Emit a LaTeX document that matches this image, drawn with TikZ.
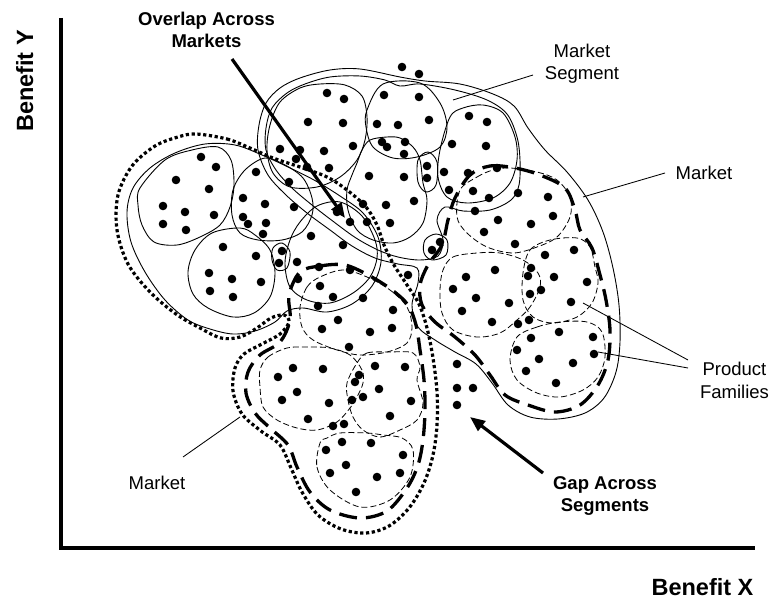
\documentclass[tikz,border=0pt]{standalone}
\usepackage{fontspec}
\setmainfont{Liberation Sans}
\usetikzlibrary{arrows.meta}
\begin{document}
\begin{tikzpicture}[x=1pt,y=-1pt,
  solidline/.style={line width=0.9pt},
  famdash/.style={line width=0.8pt, dash pattern=on 6pt off 3pt},
  segdash/.style={line width=3.3pt, dash pattern=on 18pt off 9pt},
  mktdot/.style={line width=3.2pt, dash pattern=on 3.2pt off 2.6pt},
  lab/.style={font=\fontsize{18.5}{22}\selectfont, anchor=base, inner sep=0pt},
  blab/.style={font=\fontsize{18.5}{22}\selectfont\bfseries, anchor=base, inner sep=0pt},
  axlab/.style={font=\fontsize{23.5}{28}\selectfont\bfseries, anchor=base, inner sep=0pt},
  bigarrow/.style={line width=3.2pt, -{Triangle[length=15pt,width=12pt]}},
  leader/.style={line width=0.85pt},
  sm/.style={smooth cycle, tension=0.55}
]
\fill[white] (0,0) rectangle (769,599);
\useasboundingbox (0,0) rectangle (769,599);

% ---------- Market A (dotted) ----------
\draw[mktdot] plot[sm] coordinates {(196,134) (227,139) (250,148) (273,158) (300,167) (327,177) (347,190) (366,207) (377,225) (384,245) (394,265) (407,285) (419,304) (427,328) (433,358) (437,392) (437,425) (433,455) (424,483) (409,508) (389,526) (366,533) (341,529) (318,515) (302,492) (291,468) (280,445) (261,431) (242,414) (233,391) (235,368) (244,354) (262,344) (280,334) (289,322) (284,315) (271,318) (257,328) (240,337) (221,338) (200,328) (176,314) (150,292) (128,264) (117,230) (118,195) (132,166) (155,146) (178,137)};

% ---------- Market B (solid) ----------
\draw[solidline] plot[sm] coordinates {(258,150) (259,125) (266,103) (280,88) (300,78) (330,70) (360,69) (400,77) (425,81) (460,84) (493,94) (514,106) (528,128) (545,150) (567,172) (588,200) (603,232) (613,268) (619,305) (620,342) (616,372) (604,398) (585,413) (558,419) (530,417) (508,405) (492,383) (476,364) (455,352) (435,340) (418,327) (412,305) (418,283) (417,268) (398,264) (375,258) (352,246) (330,230) (307,213) (286,195) (268,175)};

% ---------- Top segment (solid) ----------
\draw[solidline] plot[sm] coordinates {(266,150) (266,128) (272,108) (287,93) (305,84) (330,77) (360,76) (385,80) (400,86) (420,84) (455,90) (487,100) (507,114) (517,137) (520,160) (519,185) (511,200) (490,210) (463,211) (445,207) (437,220) (443,240) (438,256) (420,260) (398,257) (378,250) (356,238) (334,222) (312,205) (292,188) (276,170)};

% ---------- Left segment (solid) ----------
\draw[solidline] plot[sm] coordinates {(127,212) (133,188) (150,168) (175,153) (205,144) (235,145) (262,155) (288,167) (314,180) (340,196) (363,213) (378,237) (381,262) (372,286) (352,304) (327,312) (303,308) (287,311) (275,322) (255,331) (233,334) (210,329) (188,320) (165,300) (145,272) (131,242)};

% ---------- Solid families ----------
\draw[solidline] plot[sm] coordinates {(270,125) (280,102) (300,88) (320,84) (345,85) (362,96) (367,117) (365,140) (357,160) (340,177) (317,187) (290,187) (273,173) (267,150)};
\draw[solidline] plot[sm] coordinates {(367,110) (383,84) (420,83) (440,103) (447,127) (440,147) (417,157) (393,158) (373,147) (366,127)};
\draw[solidline] plot[sm] coordinates {(450,117) (463,108) (483,105) (503,113) (515,137) (517,160) (510,183) (493,198) (467,203) (447,197) (438,177) (440,150)};
\draw[solidline] plot[sm] coordinates {(370,140) (387,137) (400,138) (413,147) (420,160) (423,183) (427,200) (423,223) (410,237) (393,243) (373,240) (357,230) (348,210) (347,190) (352,175) (357,163) (362,150)};
\draw[solidline] plot[sm] coordinates {(140,188) (165,160) (192,150) (218,147) (231,160) (234,185) (230,207) (220,225) (200,237) (177,245) (154,242) (142,225) (138,205)};
\draw[solidline] plot[sm] coordinates {(212,233) (195,250) (188,272) (193,294) (208,308) (233,317) (254,313) (270,297) (275,273) (270,250) (255,235) (240,228)};
\draw[solidline] plot[sm] coordinates {(245,170) (265,158) (285,165) (303,178) (312,198) (312,215) (302,232) (282,240) (258,240) (240,233) (232,215) (233,190)};
\draw[solidline] plot[sm] coordinates {(300,222) (317,206) (340,202) (362,216) (375,240) (377,258) (370,277) (353,293) (330,303) (307,300) (290,287) (285,263) (290,240)};
\draw[solidline] plot[sm] coordinates {(418,160) (428,152) (437,162) (436,185) (426,192) (418,182)};
\draw[solidline] plot[sm] coordinates {(425,240) (436,234) (447,240) (446,255) (432,260) (424,253)};
\draw[solidline] plot[sm] coordinates {(273,248) (282,243) (290,252) (287,268) (277,270) (272,260)};

% ---------- Right dashed segment ----------
\draw[segdash] plot[sm] coordinates {(470,175) (490,166) (515,168) (540,175) (565,188) (575,210) (580,230) (592,248) (600,275) (606,300) (610,330) (608,360) (598,385) (580,405) (555,412) (528,405) (505,395) (490,375) (475,355) (455,337) (435,322) (422,305) (420,285) (428,265) (442,245) (448,220) (455,198)};
% ---------- Lower dashed segment ----------
\draw[segdash] plot[sm] coordinates {(300,272) (320,266) (345,265) (370,276) (392,290) (408,305) (416,325) (420,350) (424,380) (425,410) (423,440) (418,465) (407,488) (387,511) (360,518) (330,510) (310,492) (297,467) (288,445) (270,428) (255,413) (246,393) (248,372) (260,355) (280,342) (290,320) (289,295)};

% ---------- Dashed families ----------
\draw[famdash] plot[sm] coordinates {(460,190) (477,177) (493,170) (510,168) (537,172) (557,180) (570,197) (570,217) (557,237) (537,247) (513,253) (487,247) (467,233) (457,217)};
\draw[famdash] plot[sm] coordinates {(443,270) (453,257) (477,253) (500,253) (523,260) (538,273) (540,287) (530,307) (517,320) (500,333) (477,337) (453,330) (442,313) (440,290)};
\draw[famdash] plot[sm] coordinates {(523,273) (530,250) (550,240) (577,238) (590,247) (595,267) (598,283) (592,303) (577,317) (553,323) (533,317) (523,300)};
\draw[famdash] plot[sm] coordinates {(517,337) (537,327) (560,322) (587,322) (602,332) (605,357) (598,377) (583,390) (560,397) (537,393) (517,380) (510,360)};
\draw[famdash] plot[sm] coordinates {(300,307) (307,287) (320,277) (343,270) (367,277) (390,290) (407,307) (412,327) (407,343) (387,352) (360,355) (337,350) (313,340) (302,327)};
\draw[famdash] plot[sm] coordinates {(260,370) (268,357) (287,348) (307,347) (330,348) (350,355) (362,370) (363,383) (357,397) (350,408) (337,422) (317,430) (297,428) (277,420) (263,407) (260,387)};
\draw[famdash] plot[sm] coordinates {(357,363) (367,353) (390,352) (413,353) (420,367) (417,380) (423,403) (417,420) (400,430) (380,437) (363,430) (353,417) (348,400) (347,383)};
\draw[famdash] plot[sm] coordinates {(320,443) (317,467) (330,490) (360,507) (390,500) (410,477) (413,450) (402,438) (383,435) (367,433) (340,433) (327,438)};

% ---------- Dots ----------
\foreach \x/\y in {402/67,419/74,327/93,344/99,384/95,419/97,429/120,469/116,487/122,
308/122,343/123,377/124,398/125,280/149,300/150,324/151,353/146,382/142,387/147,405/142,404/154,
201/157,216/167,296/159,307/167,329/168,256/172,369/176,176/180,289/182,209/189,243/198,265/204,
294/207,363/204,386/205,163/206,185/212,214/215,163/224,186/230,243/217,248/224,266/223,263/234,
337/212,350/222,367/222,390/223,311/236,343/245,223/247,256/256,282/251,279/263,297/262,319/267,
350/270,209/273,232/279,261/282,298/279,210/291,233/297,320/286,333/297,363/298,318/306,338/320,
322/329,370/332,393/310,392/328,452/144,486/146,427/166,427/178,404/177,444/172,468/173,497/168,
449/190,473/191,489/198,518/193,548/197,414/201,475/211,498/220,531/224,484/232,440/242,432/250,
515/244,545/255,408/275,466/277,495/270,531/268,553/216,574/250,528/276,554/277,587/282,453/289,
476/298,509/303,530/294,541/290,571/302,462/311,492/322,518/324,529/320,559/332,593/337,531/338,
517/350,594/354,539/359,573/363,526/371,556/383,457/364,457/388,473/388,457/405,349/347,293/368,
323/369,375/366,405/367,278/377,297/392,359/375,355/382,379/389,363/397,352/400,411/401,282/400,
329/403,390/416,308/419,333/426,344/424,342/442,371/443,326/450,403/455,346/465,330/473,377/477,
400/473,356/492}
  \fill (\x,\y) circle[radius=4.3pt];

% ---------- Axes ----------
\coordinate (ytop) at (61,18);
\coordinate (org) at (61,548);
\coordinate (xend) at (755,548);
\draw[line width=3.5pt] (ytop) -- (org) -- (xend);

% ---------- Labels ----------
\node[blab] (ov1) at (206.5,26) {Overlap Across};
\node[blab] (ov2) at (206.5,48) {Markets};
\node[lab] (ms1) at (582,58) {Market};
\node[lab] (ms2) at (582,80) {Segment};
\node[lab] (mr) at (704,179) {Market};
\node[lab] (pf1) at (734.5,375) {Product};
\node[lab] (pf2) at (734.5,398) {Families};
\node[lab] (ml) at (157,489) {Market};
\node[blab] (gp1) at (605,489) {Gap Across};
\node[blab] (gp2) at (605,511) {Segments};
\node[axlab] (bx) at (702.5,595) {Benefit X};
\node[axlab, rotate=90] (by) at (33,81) {Benefit Y};

% ---------- Leaders ----------
\coordinate (lms0) at (533,75);  \coordinate (lms1) at (453,100);
\coordinate (lmr0) at (665,173); \coordinate (lmr1) at (583,197);
\coordinate (lpf0) at (688,360); \coordinate (lpf1) at (583,303);
\coordinate (lpf2) at (688,368); \coordinate (lpf3) at (598,352);
\coordinate (lml0) at (183,457); \coordinate (lml1) at (240,417);
\draw[leader] (lms0) -- (lms1);
\draw[leader] (lmr0) -- (lmr1);
\draw[leader] (lpf0) -- (lpf1);
\draw[leader] (lpf2) -- (lpf3);
\draw[leader] (lml0) -- (lml1);

% ---------- Arrows ----------
\coordinate (ova) at (232,59);  \coordinate (ovb) at (345,218);
\coordinate (gpa) at (543,473); \coordinate (gpb) at (470,417);
\draw[bigarrow] (ova) -- (ovb);
\draw[bigarrow] (gpa) -- (gpb);
\end{tikzpicture}
\end{document}
